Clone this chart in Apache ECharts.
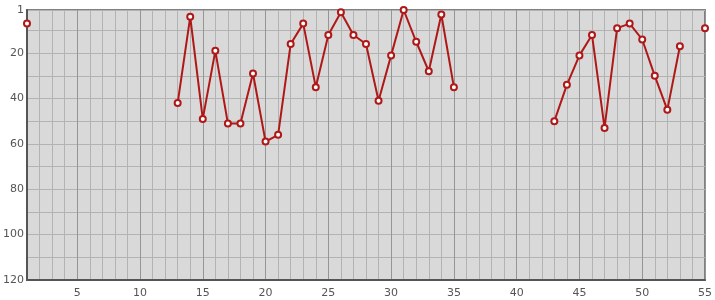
<!DOCTYPE html>
<html><head><meta charset="utf-8">
<script src="https://cdn.jsdelivr.net/npm/echarts@6/dist/echarts.min.js"></script>
<style>html,body{margin:0;padding:0;background:#fff}#c{width:715px;height:300px}</style>
</head><body><div id="c"></div>
<script>
// x positions 1..55 and rank values (null = no data)
const positions = [1,2,3,4,5,6,7,8,9,10,11,12,13,14,15,16,17,18,19,20,21,22,23,24,25,26,27,28,29,30,31,32,33,34,35,36,37,38,39,40,41,42,43,44,45,46,47,48,49,50,51,52,53,54,55];
const ranks = [7,null,null,null,null,null,null,null,null,null,null,null,42,4,49,19,51,51,29,59,56,16,7,35,12,2,12,16,41,21,1,15,28,3,35,null,null,null,null,null,null,null,50,34,21,12,53,9,7,14,30,45,17,null,9];
const yTickValues = [1,10,20,30,40,50,60,70,80,90,100,110,120];
const yLabelValues = [1,20,40,60,80,100,120];
const xLabelStep = 5;

const chart = echarts.init(document.getElementById('c'), null, {renderer:'canvas'});
const light = '#b3b3b3', dark = '#959595';
chart.setOption({
  animation:false,
  textStyle:{fontFamily:'DejaVu Sans'},
  grid:{left:25,right:10,top:10,bottom:20,show:true,backgroundColor:'#d9d9d9',borderColor:'#808080',borderWidth:2},
  xAxis:{type:'value',min:1,max:55,interval:1,
    axisLine:{show:true,lineStyle:{color:'#555',width:2}},
    axisTick:{show:false},
    axisLabel:{color:'#555',fontSize:11,margin:8,formatter:v=>(v%xLabelStep===0?String(v):'')},
    splitLine:{show:true,lineStyle:{color:[light,light,light,light,dark],width:1}}
  },
  yAxis:{type:'value',min:1,max:120,inverse:true,
    axisLine:{show:true,lineStyle:{color:'#555',width:2}},
    axisTick:{show:true,length:0,customValues:yTickValues},
    axisLabel:{color:'#555',fontSize:11,margin:3,customValues:yLabelValues},
    splitLine:{show:true,lineStyle:{color:light,width:1}}
  },
  series:[{type:'line',data:positions.map((x,i)=>[x,ranks[i]]),connectNulls:false,
    symbol:'emptyCircle',symbolSize:6,showAllSymbol:true,
    lineStyle:{color:'#b01818',width:2},
    itemStyle:{color:'#b01818',borderWidth:2}
  }]
});
</script></body></html>
